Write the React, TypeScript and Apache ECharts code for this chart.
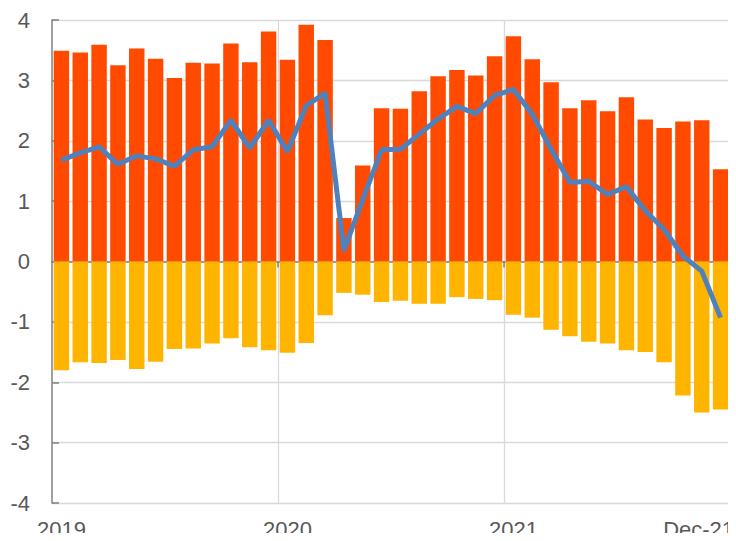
import React, { useEffect, useRef } from "react";
import * as echarts from "echarts";

const months: string[] = [];
const years = ["2019", "2020", "2021"];
const monthNames = ["Jan", "Feb", "Mar", "Apr", "May", "Jun", "Jul", "Aug", "Sep", "Oct", "Nov", "Dec"];
for (const y of years) for (const m of monthNames) months.push(`${m}-${y.slice(2)}`);

const positive = [
  3.49, 3.46, 3.59, 3.25, 3.53, 3.36, 3.04, 3.29, 3.28, 3.61, 3.30, 3.81,
  3.34, 3.92, 3.67, 0.72, 1.59, 2.54, 2.53, 2.82, 3.07, 3.17, 3.08, 3.40,
  3.73, 3.35, 2.97, 2.54, 2.67, 2.49, 2.72, 2.35, 2.21, 2.32, 2.34, 1.53,
];
const negative = [
  -1.80, -1.67, -1.68, -1.63, -1.78, -1.66, -1.45, -1.44, -1.36, -1.27, -1.42, -1.47,
  -1.51, -1.35, -0.89, -0.52, -0.55, -0.67, -0.65, -0.70, -0.70, -0.59, -0.62, -0.64,
  -0.88, -0.93, -1.13, -1.24, -1.33, -1.36, -1.47, -1.50, -1.67, -2.22, -2.50, -2.45,
];
const net = [
  1.68, 1.80, 1.90, 1.61, 1.75, 1.70, 1.58, 1.85, 1.90, 2.34, 1.88, 2.34,
  1.82, 2.58, 2.79, 0.18, 1.03, 1.85, 1.86, 2.11, 2.36, 2.57, 2.45, 2.75,
  2.85, 2.44, 1.86, 1.31, 1.33, 1.11, 1.24, 0.84, 0.53, 0.09, -0.16, -0.93,
];
const xLabels: Record<number, string> = { 0: "2019", 12: "2020", 24: "2021", 35: "Dec-21" };
const boundaryIdx = [12, 24, 36];

export default function App() {
  const ref = useRef<HTMLDivElement>(null);
  useEffect(() => {
    if (!ref.current) return;
    const chart = echarts.init(ref.current, undefined, { renderer: "svg" });
    const font = "'Liberation Sans', Arial, sans-serif";
    chart.setOption({
      animation: false,
      grid: { left: 52, right: 6, top: 20, bottom: 38, outerBoundsMode: "none", containLabel: false },
      xAxis: [
        {
          type: "category",
          data: months,
          boundaryGap: true,
          axisLine: { onZero: true, lineStyle: { color: "#808080", width: 1.5 } },
          axisTick: {
            show: true,
            length: 6,
            interval: (i: number) => boundaryIdx.includes(i),
            lineStyle: { color: "#808080", width: 1.5 },
          },
          splitLine: {
            show: true,
            interval: (i: number) => boundaryIdx.includes(i),
            lineStyle: { color: "#d9d9d9", width: 1.3 },
          },
          axisLabel: { show: false },
        },
        {
          type: "category",
          data: months,
          position: "bottom",
          boundaryGap: true,
          axisLine: { show: false, onZero: false },
          axisTick: { show: false },
          splitLine: { show: false },
          axisLabel: {
            interval: 0,
            margin: 15,
            fontSize: 22,
            fontFamily: font,
            color: "#595959",
            hideOverlap: false,
            formatter: (_v: string, i: number) => (i === 35 ? "{d|Dec-21}" : xLabels[i] || ""),
            rich: { d: { fontSize: 22, fontFamily: font, color: "#595959", padding: [0, 44, 0, 0] } },
          },
        },
      ],
      yAxis: {
        type: "value",
        min: -4,
        max: 4,
        interval: 1,
        axisLine: { show: true, lineStyle: { color: "#808080", width: 1.5 } },
        axisTick: { show: true, inside: true, length: 7, lineStyle: { color: "#808080", width: 1.5 } },
        splitLine: { show: true, lineStyle: { color: "#d9d9d9", width: 1.3 } },
        axisLabel: { fontSize: 22, fontFamily: font, color: "#595959", margin: 22 },
      },
      series: [
        {
          type: "bar",
          stack: "a",
          data: positive,
          barWidth: "82%",
          itemStyle: { color: "#FF4A00" },
        },
        {
          type: "bar",
          stack: "a",
          data: negative,
          barWidth: "82%",
          itemStyle: { color: "#FFB400" },
        },
        {
          type: "line",
          data: net,
          symbol: "none",
          z: 5,
          lineStyle: { color: "#4F81BD", width: 5 },
        },
      ],
    });
    return () => chart.dispose();
  }, []);
  return <div ref={ref} style={{ width: 736, height: 541, margin: -8 }} />;
}
